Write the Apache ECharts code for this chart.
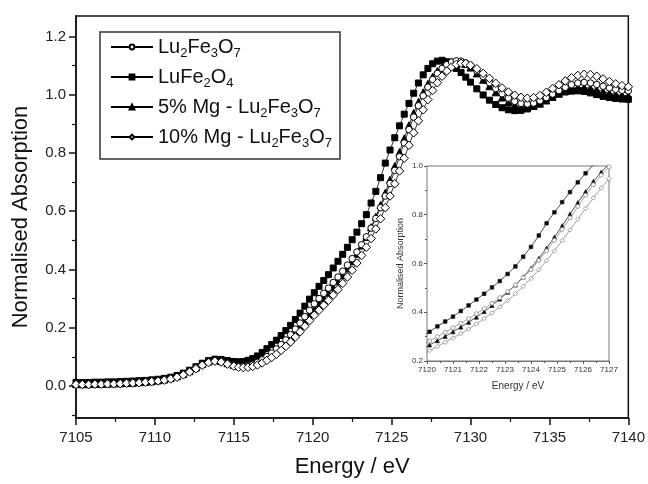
<!DOCTYPE html>
<html>
<head>
<meta charset="utf-8">
<script src="https://cdn.jsdelivr.net/npm/echarts@6/dist/echarts.min.js"></script>
<style>html,body{margin:0;padding:0;background:#fff}#c{width:648px;height:484px}</style>
</head>
<body>
<div id="c"></div>
<script>
const energy = [
7105.0,7105.4,7105.8,7106.2,7106.6,7107.0,7107.4,7107.8,7108.2,7108.6,7109.0,7109.4,7109.8,7110.2,7110.6,7111.0,7111.4,7111.8,7112.2,7112.6,7113.0,7113.4,7113.8,7114.2,7114.6,7115.0,
7115.3,7115.6,7115.9,7116.2,7116.5,7116.8,7117.1,7117.4,7117.7,7118.0,7118.3,7118.6,7118.9,7119.2,7119.5,7119.8,7120.1,7120.4,7120.7,7121.0,7121.3,7121.6,7121.9,7122.2,7122.5,7122.8,7123.1,7123.4,7123.7,7124.0,7124.3,7124.6,7124.9,7125.2,7125.5,7125.8,7126.1,7126.4,7126.7,7127.0,7127.3,7127.6,7127.9,7128.2,7128.5,7128.8,7129.1,7129.4,7129.7,7130.0,
7130.4,7130.8,7131.2,7131.6,7132.0,7132.4,7132.8,7133.2,7133.6,7134.0,7134.4,7134.8,7135.2,7135.6,7136.0,7136.4,7136.8,7137.2,7137.6,7138.0,7138.4,7138.8,7139.2,7139.6,7140.0];

const lu2fe3o7 = [
0.004,0.004,0.005,0.005,0.006,0.006,0.007,0.008,0.009,0.010,0.012,0.013,0.015,0.018,0.021,0.026,0.032,0.040,0.050,0.062,0.074,0.083,0.087,0.083,0.076,0.070,
0.067,0.067,0.069,0.074,0.081,0.090,0.101,0.113,0.127,0.142,0.158,0.176,0.195,0.216,0.238,0.260,0.282,0.300,0.318,0.336,0.355,0.374,0.394,0.415,0.437,0.460,0.485,0.512,0.542,0.575,0.612,0.652,0.695,0.740,0.787,0.834,0.880,0.923,0.962,0.996,1.026,1.052,1.073,1.090,1.103,1.112,1.116,1.115,1.109,1.099,
1.082,1.062,1.041,1.021,1.003,0.988,0.977,0.970,0.968,0.971,0.979,0.990,1.002,1.014,1.025,1.034,1.040,1.042,1.040,1.035,1.029,1.023,1.018,1.015,1.013];

const lufe2o4 = [
0.012,0.012,0.012,0.013,0.013,0.014,0.014,0.015,0.016,0.017,0.018,0.019,0.021,0.023,0.026,0.030,0.036,0.044,0.054,0.066,0.078,0.087,0.092,0.091,0.087,0.084,
0.083,0.084,0.088,0.094,0.103,0.115,0.128,0.142,0.157,0.173,0.190,0.208,0.228,0.250,0.274,0.298,0.320,0.342,0.362,0.382,0.405,0.428,0.452,0.476,0.502,0.528,0.557,0.588,0.628,0.668,0.715,0.765,0.810,0.852,0.893,0.933,0.970,1.005,1.040,1.068,1.090,1.106,1.115,1.118,1.113,1.103,1.090,1.076,1.060,1.043,
1.020,0.999,0.981,0.966,0.955,0.948,0.945,0.946,0.951,0.960,0.972,0.985,0.996,1.004,1.009,1.012,1.013,1.011,1.006,1.000,0.994,0.990,0.987,0.985,0.984];

const mg5 = [
0.006,0.006,0.006,0.007,0.007,0.008,0.009,0.009,0.010,0.011,0.013,0.014,0.016,0.019,0.022,0.027,0.033,0.041,0.051,0.063,0.075,0.084,0.088,0.085,0.078,0.072,
0.069,0.069,0.071,0.075,0.082,0.090,0.100,0.111,0.124,0.138,0.153,0.170,0.188,0.207,0.227,0.247,0.266,0.283,0.301,0.320,0.339,0.359,0.380,0.403,0.428,0.454,0.482,0.512,0.545,0.581,0.621,0.663,0.708,0.755,0.803,0.850,0.895,0.937,0.975,1.008,1.037,1.061,1.081,1.096,1.107,1.114,1.116,1.113,1.105,1.093,
1.073,1.051,1.029,1.008,0.990,0.975,0.964,0.958,0.957,0.961,0.969,0.980,0.992,1.003,1.013,1.020,1.024,1.025,1.022,1.017,1.011,1.005,1.001,0.998,0.996];

const mg10 = [
0.005,0.005,0.005,0.006,0.006,0.007,0.007,0.008,0.009,0.010,0.011,0.013,0.015,0.017,0.020,0.024,0.030,0.038,0.048,0.059,0.071,0.080,0.085,0.082,0.075,0.068,
0.064,0.063,0.064,0.067,0.072,0.079,0.088,0.098,0.109,0.122,0.136,0.151,0.168,0.186,0.205,0.224,0.243,0.260,0.277,0.294,0.312,0.331,0.352,0.374,0.397,0.422,0.448,0.476,0.506,0.539,0.574,0.612,0.652,0.694,0.738,0.782,0.826,0.869,0.910,0.948,0.983,1.014,1.041,1.063,1.081,1.095,1.104,1.108,1.107,1.101,
1.089,1.073,1.056,1.039,1.023,1.009,0.998,0.991,0.988,0.990,0.997,1.008,1.021,1.034,1.047,1.058,1.066,1.070,1.069,1.063,1.054,1.045,1.037,1.031,1.027];

const seriesNames = ['Lu2Fe3O7', 'LuFe2O4', '5% Mg - Lu2Fe3O7', '10% Mg - Lu2Fe3O7'];
const legendRich = {
  'Lu2Fe3O7': 'Lu{s|2}Fe{s|3}O{s|7}',
  'LuFe2O4': 'LuFe{s|2}O{s|4}',
  '5% Mg - Lu2Fe3O7': '5% Mg - Lu{s|2}Fe{s|3}O{s|7}',
  '10% Mg - Lu2Fe3O7': '10% Mg - Lu{s|2}Fe{s|3}O{s|7}'
};
const yMajor = [0, 0.2, 0.4, 0.6, 0.8, 1.0, 1.2];
const yMinor = [-0.1, 0.1, 0.3, 0.5, 0.7, 0.9, 1.1];

const FONT = 'Liberation Sans, Arial, Helvetica, sans-serif';
const pairs = arr => energy.map((e, i) => [e, arr[i]]);

const styles = {
  'Lu2Fe3O7': {symbol: 'circle', size: 6.5, fill: '#fff', insetFill: '#fff', insetColor: '#8a8a8a', insetSize: 4},
  'LuFe2O4': {symbol: 'rect', size: 6, fill: '#000', insetFill: '#000', insetColor: '#222', insetSize: 3.5},
  '5% Mg - Lu2Fe3O7': {symbol: 'triangle', size: 7, fill: '#000', insetFill: '#000', insetColor: '#222', insetSize: 4},
  '10% Mg - Lu2Fe3O7': {symbol: 'diamond', size: 8.5, fill: '#fff', insetFill: '#fff', insetColor: '#8a8a8a', insetSize: 4.5}
};
const dataByName = {
  'Lu2Fe3O7': lu2fe3o7, 'LuFe2O4': lufe2o4, '5% Mg - Lu2Fe3O7': mg5, '10% Mg - Lu2Fe3O7': mg10
};
const drawOrder = ['LuFe2O4', '5% Mg - Lu2Fe3O7', 'Lu2Fe3O7', '10% Mg - Lu2Fe3O7'];

const series = [];
drawOrder.forEach((name, k) => {
  const st = styles[name];
  series.push({
    name, type: 'line', xAxisIndex: 0, yAxisIndex: 0, data: pairs(dataByName[name]),
    symbol: st.symbol, symbolSize: st.size, showAllSymbol: true,
    lineStyle: {color: '#000', width: 0.8},
    itemStyle: {color: st.fill, borderColor: '#000', borderWidth: 1},
    z: 2 + k, animation: false
  });
});
drawOrder.forEach((name, k) => {
  const st = styles[name];
  series.push({
    name: name + ' (inset)', type: 'line', xAxisIndex: 1, yAxisIndex: 2, data: pairs(dataByName[name]),
    symbol: st.symbol, symbolSize: st.insetSize, showAllSymbol: true, clip: true,
    lineStyle: {color: st.insetColor, width: 0.8},
    itemStyle: {color: st.insetFill, borderColor: st.insetColor, borderWidth: 0.8},
    z: 12 + k, animation: false
  });
});

const plain = v => String(Math.round(v));

const chart = echarts.init(document.getElementById('c'), null, {renderer: 'canvas'});
chart.setOption({
  animation: false,
  backgroundColor: '#fff',
  textStyle: {fontFamily: FONT},
  grid: [
    {left: 76, right: 18, top: 16, bottom: 66, show: true, borderColor: '#111', borderWidth: 1.5, backgroundColor: 'transparent', z: 0},
    {left: 427, top: 166, width: 182, height: 195, show: true, borderColor: '#777', borderWidth: 1, backgroundColor: '#fff', z: 10}
  ],
  legend: {
    data: seriesNames, orient: 'vertical', left: 100, top: 32,
    itemWidth: 42, itemHeight: 6, itemGap: 4, padding: [2, 8, 9, 10],
    borderColor: '#333', borderWidth: 1.5, backgroundColor: '#fff',
    formatter: n => legendRich[n],
    textStyle: {fontFamily: FONT, fontSize: 20, color: '#111', lineHeight: 26,
      rich: {s: {fontSize: 13, fontFamily: FONT, color: '#111', verticalAlign: 'bottom', lineHeight: 13, padding: [6, 0, 0, 0]}}}
  },
  xAxis: [
    {gridIndex: 0, type: 'value', min: 7105, max: 7140, interval: 5, position: 'bottom',
     axisLine: {onZero: false, lineStyle: {color: '#111', width: 1.5}},
     axisTick: {show: true, length: 7, lineStyle: {color: '#111', width: 1.5}},
     minorTick: {show: true, splitNumber: 2, length: 4, lineStyle: {color: '#111', width: 1.2}},
     axisLabel: {fontSize: 15, color: '#222', margin: 12, fontFamily: FONT, formatter: plain},
     splitLine: {show: false}, minorSplitLine: {show: false},
     name: 'Energy / eV', nameLocation: 'middle', nameGap: 38,
     nameTextStyle: {fontSize: 22, color: '#111', fontFamily: FONT}},
    {gridIndex: 1, type: 'value', min: 7120, max: 7127, interval: 1, position: 'bottom',
     axisLine: {onZero: false, lineStyle: {color: '#777', width: 1}},
     axisTick: {show: true, length: 3, lineStyle: {color: '#555'}},
     minorTick: {show: true, splitNumber: 2, length: 2, lineStyle: {color: '#555'}},
     axisLabel: {fontSize: 8, color: '#333', margin: 5, fontFamily: FONT, formatter: plain},
     splitLine: {show: false},
     name: 'Energy / eV', nameLocation: 'middle', nameGap: 20,
     nameTextStyle: {fontSize: 10, color: '#333', fontFamily: FONT}}
  ],
  yAxis: [
    {gridIndex: 0, type: 'value', min: -0.11, max: 1.27, position: 'left',
     axisLine: {show: true, onZero: false, lineStyle: {color: '#111', width: 1.5}},
     axisTick: {show: true, length: 7, customValues: yMajor, lineStyle: {color: '#111', width: 1.5}},
     axisLabel: {fontSize: 15, color: '#222', margin: 10, customValues: yMajor, fontFamily: FONT,
       formatter: v => v.toFixed(1)},
     splitLine: {show: false},
     name: 'Normalised Absorption', nameLocation: 'middle', nameGap: 44,
     nameTextStyle: {fontSize: 22, color: '#111', fontFamily: FONT}},
    {gridIndex: 0, type: 'value', min: -0.11, max: 1.27, position: 'left', offset: 0,
     axisLine: {show: false, onZero: false},
     axisTick: {show: true, length: 4, customValues: yMinor, lineStyle: {color: '#111', width: 1.2}},
     axisLabel: {show: false},
     splitLine: {show: false}},
    {gridIndex: 1, type: 'value', min: 0.2, max: 1.0, interval: 0.2, position: 'left',
     axisLine: {show: true, onZero: false, lineStyle: {color: '#777', width: 1}},
     axisTick: {show: true, length: 3, lineStyle: {color: '#555'}},
     minorTick: {show: true, splitNumber: 2, length: 2, lineStyle: {color: '#555'}},
     axisLabel: {fontSize: 8, color: '#333', margin: 4, fontFamily: FONT, formatter: v => v.toFixed(1)},
     splitLine: {show: false},
     name: 'Normalised Absorption', nameLocation: 'middle', nameGap: 22,
     nameTextStyle: {fontSize: 9, color: '#333', fontFamily: FONT}}
  ],
  series
});
</script>
</body>
</html>
